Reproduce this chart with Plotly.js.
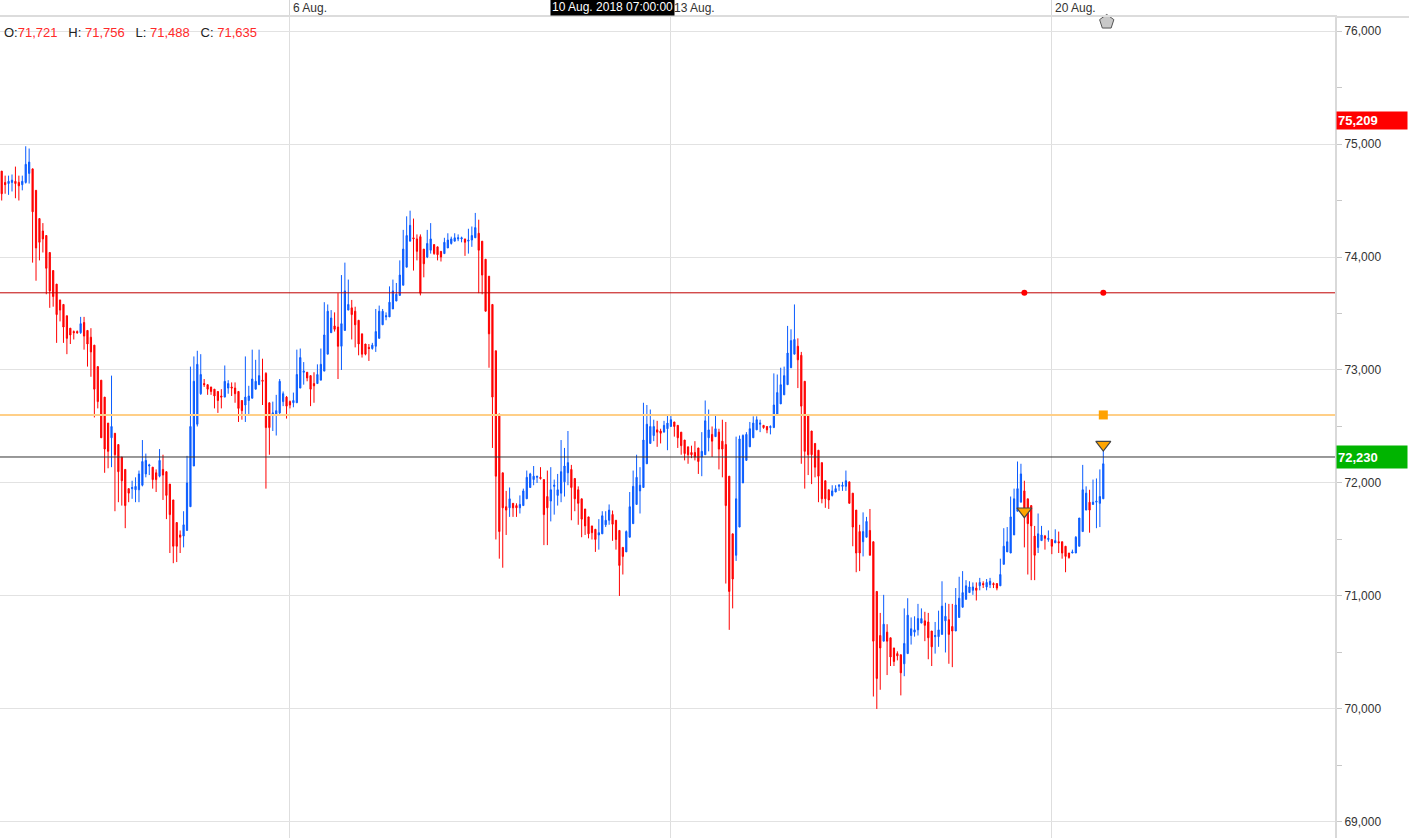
<!DOCTYPE html>
<html><head><meta charset="utf-8">
<script src="https://cdn.plot.ly/plotly-3.0.1.min.js"></script>
<style>html,body{margin:0;padding:0;background:#fff;overflow:hidden}#chart{width:1409px;height:838px}</style>
</head><body><div id="chart"></div>
<script>
// ---- DATA (hourly candles) ----
const opens = [
74.76,74.66,74.65,74.66,74.67,74.66,74.64,74.66,74.74,74.78,74.59,74.34,74.23,74.19,74.04,73.88,73.76,73.62,73.58,73.48,73.37,73.34,73.34,73.33,73.42,73.35,73.29,73.22,73.03,72.91,72.76,72.53,72.40,72.44,72.34,72.23,72.12,71.95,71.95,71.94,71.94,
71.98,72.08,72.15,72.14,72.09,72.06,72.12,72.10,71.99,71.85,71.65,71.54,71.53,71.58,71.79,72.15,72.52,72.79,72.88,72.87,72.85,72.83,72.81,72.77,72.76,72.84,72.85,72.84,72.81,72.73,72.69,72.73,72.75,72.83,72.87,72.91,72.97,72.71,72.61,72.60,
72.62,72.72,72.76,72.72,72.71,72.71,72.84,72.98,72.98,72.95,72.88,72.88,72.91,72.99,73.14,73.33,73.39,73.38,73.21,73.35,73.53,73.55,73.52,73.44,73.32,73.23,73.20,73.19,73.21,73.28,73.40,73.47,73.47,73.54,73.61,73.66,73.75,73.91,74.14,74.17,74.16,
74.18,74.07,74.00,74.06,74.11,74.09,74.05,74.03,74.08,74.12,74.14,74.16,74.16,74.16,74.14,74.15,74.17,74.21,74.14,73.98,73.83,73.58,73.17,72.61,72.09,71.79,71.78,71.82,71.80,71.78,71.80,71.86,71.96,72.03,72.05,72.05,72.03,71.88,71.84,71.97,71.89,
71.91,72.01,72.09,72.12,72.04,71.94,71.86,71.77,71.70,71.62,71.59,71.54,71.55,71.63,71.67,71.721,71.67,71.58,71.43,71.39,71.52,71.64,71.81,71.93,71.96,72.17,72.35,72.42,72.47,72.46,72.45,72.48,72.50,72.54,72.51,72.45,72.38,72.32,72.27,72.27,72.31,
72.23,72.25,72.40,72.43,72.41,72.45,72.37,72.34,72.06,71.55,71.36,71.61,72.00,72.20,72.32,72.40,72.47,72.52,72.51,72.50,72.49,72.49,72.61,72.70,72.78,72.87,73.02,73.14,73.21,73.13,72.90,72.60,72.46,72.35,72.29,72.18,72.02,71.94,71.89,71.92,
71.97,71.97,71.97,72.01,71.91,71.76,71.57,71.48,71.52,71.58,71.48,71.04,70.65,70.60,70.68,70.63,70.54,70.49,70.48,70.40,70.49,70.65,70.68,70.70,70.76,70.78,70.77,70.69,70.64,70.64,70.66,70.78,70.79,70.73,70.69,70.81,70.90,70.97,71.03,71.05,71.07,
71.09,71.11,71.08,71.10,71.11,71.11,71.09,71.28,71.39,71.38,71.54,71.75,71.83,71.93,71.86,71.80,71.53,71.43,71.49,71.53,71.50,71.50,71.47,71.48,71.48,71.44,71.38,71.38,71.38,71.44,71.57,71.76,71.83,71.81,71.83,71.82,71.86
];
const highs = [
74.76,74.72,74.72,74.73,74.80,74.72,74.72,74.98,74.96,74.78,74.59,74.34,74.30,74.19,74.04,73.88,73.76,73.62,73.58,73.48,73.37,73.35,73.35,73.47,73.47,73.35,73.37,73.22,73.03,72.91,72.76,72.53,72.95,72.44,72.34,72.23,72.12,71.95,72.02,72.05,72.11,
72.38,72.26,72.17,72.14,72.12,72.30,72.25,72.10,71.99,71.85,71.65,71.58,71.75,72.24,73.03,73.12,73.17,73.14,72.92,72.87,72.85,72.83,72.81,72.83,73.04,72.91,72.89,72.89,72.81,72.73,73.12,72.86,73.18,73.09,73.18,73.10,72.98,72.71,72.72,72.78,
72.92,72.81,72.77,72.73,72.80,73.18,73.19,73.07,72.98,72.95,72.98,73.05,73.19,73.60,73.58,73.53,73.51,73.68,73.84,73.95,73.80,73.62,73.56,73.44,73.32,73.23,73.23,73.24,73.54,73.57,73.54,73.51,73.74,73.80,73.77,73.97,74.24,74.36,74.41,74.34,74.20,
74.20,74.07,74.24,74.30,74.11,74.09,74.05,74.17,74.21,74.18,74.21,74.20,74.18,74.16,74.25,74.27,74.39,74.33,74.14,73.98,73.83,73.58,73.17,72.61,72.09,71.93,71.96,71.82,71.82,71.89,71.95,72.11,72.09,72.15,72.06,72.14,72.03,72.11,72.14,72.03,72.08,
72.38,72.31,72.46,72.16,72.04,71.97,71.86,71.77,71.70,71.62,71.59,71.68,71.75,71.75,71.81,71.756,71.67,71.58,71.43,71.58,71.92,72.11,72.25,72.14,72.71,72.69,72.65,72.56,72.55,72.48,72.55,72.60,72.60,72.54,72.51,72.45,72.38,72.32,72.33,72.37,72.31,
72.45,72.73,72.65,72.50,72.61,72.48,72.56,72.54,72.06,71.55,72.41,72.42,72.43,72.45,72.54,72.59,72.59,72.56,72.51,72.50,72.51,72.97,72.96,73.02,73.03,73.39,73.36,73.58,73.28,73.16,72.90,72.60,72.46,72.35,72.29,72.18,72.02,71.94,71.98,71.98,
71.99,72.01,72.11,72.01,71.91,71.76,71.63,71.74,71.70,71.77,71.48,71.04,70.85,71.01,70.75,70.63,70.54,70.51,70.48,70.89,70.98,70.81,70.82,70.93,70.89,70.86,70.85,70.69,70.77,70.87,71.13,70.94,70.93,70.93,71.07,71.17,71.22,71.14,71.13,71.12,71.12,
71.16,71.13,71.15,71.16,71.12,71.11,71.33,71.60,71.61,71.88,71.95,72.19,72.17,72.02,71.86,71.80,71.62,71.73,71.62,71.54,71.58,71.50,71.59,71.57,71.48,71.44,71.38,71.41,71.53,71.69,72.16,71.97,71.94,72.03,72.04,72.12,72.29
];
const lows = [
74.50,74.56,74.55,74.58,74.52,74.50,74.59,74.65,74.65,73.95,73.79,73.97,74.04,73.67,73.55,73.56,73.24,73.43,73.24,73.14,73.23,73.27,73.32,73.32,73.18,73.03,72.94,72.58,72.66,72.40,72.09,72.13,72.14,71.75,71.83,71.80,71.60,71.83,71.86,71.83,71.83,
71.97,72.05,72.07,71.95,71.92,72.05,71.85,71.68,71.38,71.29,71.30,71.38,71.43,71.58,71.79,72.15,72.50,72.78,72.85,72.78,72.78,72.66,72.62,72.66,72.76,72.79,72.77,72.71,72.54,72.56,72.54,72.60,72.75,72.83,72.87,72.69,71.95,72.25,72.46,72.42,
72.60,72.68,72.57,72.66,72.67,72.71,72.84,72.87,72.90,72.68,72.71,72.88,72.91,72.99,73.14,73.33,73.34,72.92,73.00,73.35,73.53,73.27,73.20,73.13,73.11,73.13,73.08,73.18,73.16,73.28,73.40,73.44,73.47,73.54,73.61,73.66,73.75,73.91,74.14,73.88,73.97,
73.66,73.82,73.99,74.03,74.02,73.97,73.96,74.03,74.08,74.11,74.14,74.14,74.13,74.01,74.03,74.09,74.17,73.68,73.67,73.52,73.02,72.31,71.50,71.33,71.25,71.54,71.70,71.70,71.70,71.73,71.80,71.86,71.96,71.98,72.00,72.03,71.45,71.45,71.66,71.72,71.80,
71.83,71.88,71.98,71.67,71.75,71.63,71.52,71.54,71.51,71.50,71.39,71.41,71.55,71.61,71.63,71.488,71.41,71.00,71.19,71.39,71.52,71.64,71.81,71.73,71.96,72.17,72.35,72.37,72.32,72.35,72.45,72.29,72.50,72.41,72.31,72.25,72.20,72.17,72.22,72.20,72.08,
72.06,72.25,72.28,72.23,72.41,72.12,72.05,71.11,70.70,70.89,71.31,71.61,72.00,72.20,72.32,72.40,72.47,72.45,72.48,72.44,72.43,72.49,72.61,72.70,72.78,72.87,73.02,73.14,72.84,72.17,71.95,72.07,71.99,72.05,71.83,71.82,71.78,71.77,71.88,71.92,
71.93,71.93,71.93,71.82,71.44,71.21,71.22,71.35,71.52,71.36,70.11,70.00,70.17,70.60,70.30,70.38,70.38,70.43,70.12,70.29,70.49,70.57,70.64,70.65,70.76,70.60,70.44,70.38,70.49,70.55,70.66,70.50,70.40,70.37,70.69,70.81,70.90,70.97,71.03,71.01,70.96,
71.05,71.07,71.05,71.07,71.07,71.05,71.09,71.28,71.39,71.38,71.54,71.75,71.83,71.43,71.19,71.14,71.14,71.38,71.49,71.41,71.48,71.37,71.47,71.38,71.33,71.21,71.33,71.38,71.38,71.44,71.57,71.76,71.56,71.81,71.60,71.61,71.86
];
const closes = [
74.56,74.64,74.67,74.68,74.65,74.63,74.67,74.82,74.84,74.40,74.08,74.13,74.16,73.90,73.70,73.65,73.49,73.53,73.38,73.28,73.31,73.33,73.33,73.41,73.30,73.23,73.16,72.83,72.72,72.40,72.30,72.28,72.50,72.25,72.10,72.02,71.80,71.91,71.96,71.97,72.08,
72.19,72.20,72.16,72.03,72.03,72.20,72.07,71.89,71.72,71.44,71.44,71.52,71.63,72.00,72.50,72.90,73.05,72.96,72.87,72.83,72.81,72.77,72.73,72.76,72.90,72.88,72.84,72.79,72.66,72.64,72.76,72.77,72.92,72.90,72.95,72.90,72.49,72.49,72.62,72.64,
72.90,72.79,72.68,72.69,72.73,72.96,73.11,72.99,72.93,72.83,72.86,72.96,73.05,73.31,73.52,73.46,73.36,73.21,73.41,73.70,73.58,73.49,73.40,73.23,73.14,73.14,73.19,73.22,73.34,73.52,73.52,73.48,73.60,73.70,73.67,73.84,74.07,74.19,74.28,74.16,74.05,
73.68,73.94,74.12,74.16,74.03,74.02,74.00,74.13,74.15,74.16,74.17,74.17,74.17,74.13,74.15,74.19,74.26,74.06,73.84,73.52,73.32,72.76,72.06,71.57,71.78,71.76,71.86,71.78,71.78,71.81,71.93,72.05,72.08,72.06,72.06,72.04,71.72,71.78,71.94,71.98,71.94,
72.10,72.15,72.18,71.96,71.86,71.82,71.68,71.62,71.55,71.56,71.50,71.56,71.71,71.67,71.76,71.635,71.50,71.27,71.35,71.57,71.79,71.97,72.05,71.98,72.38,72.52,72.50,72.50,72.45,72.44,72.51,72.53,72.56,72.50,72.40,72.33,72.26,72.25,72.25,72.23,72.19,
72.28,72.55,72.47,72.37,72.48,72.30,72.30,71.80,71.04,71.15,71.86,72.39,72.42,72.43,72.48,72.53,72.56,72.53,72.49,72.47,72.50,72.69,72.80,72.87,72.95,73.15,73.26,73.27,73.09,72.68,72.28,72.25,72.25,72.14,72.06,71.86,71.86,71.85,71.93,71.95,
71.98,71.98,72.02,71.82,71.61,71.38,71.38,71.57,71.66,71.36,70.60,70.27,70.54,70.75,70.60,70.46,70.42,70.47,70.32,70.58,70.83,70.71,70.70,70.80,70.80,70.74,70.63,70.55,70.65,70.70,70.91,70.82,70.66,70.69,70.92,70.98,71.03,71.09,71.08,71.08,71.05,
71.12,71.10,71.12,71.13,71.10,71.07,71.19,71.44,71.48,71.70,71.86,71.95,72.08,71.76,71.64,71.62,71.36,71.55,71.54,71.51,71.51,71.44,71.49,71.47,71.38,71.35,71.34,71.39,71.52,71.69,71.94,71.91,71.76,71.83,71.84,71.88,72.17
];
const weekTickIndex = [84, 195, 306];
const weekTickLabels = ['6 Aug.', '13 Aug.', '20 Aug.'];
const yTickVals = [69, 70, 71, 72, 73, 74, 75, 76];
const yMinorVals = [69.5, 70.5, 71.5, 72.5, 73.5, 74.5, 75.5];
const levelPrices = [73.683, 72.602, 72.230];
const dotIndex = [298, 321], dotPrice = [73.683, 73.683];
const squareIndex = [321], squarePrice = [72.602];
const triIndex = [298, 321], triPrice = [71.75, 72.34];
const houseIndex = [322], housePrice = [76.08];
const priceTags = [75.209, 72.230];
const hoverCandle = 178;
const hoverTime = '10 Aug. 2018 07:00:00';

// ---- CHART ----
const N = opens.length;
const idx = opens.map((_, i) => i);
const W = 1409, H = 838, mR = 74, mT = 17;
const plotW = W - mR;
const per = (1103.3 - 1.7) / (N - 1);
const xr = [-1.7 / per, (plotW - 1.7) / per];
const yr = [68.858, 76.124];
const FONT = 'Liberation Sans, Arial, sans-serif';
const fmt = v => v.toFixed(3).replace('.', ',');

const levelStyle = [
  {color: '#c00000', width: 1},
  {color: '#ffcf87', width: 2},
  {color: '#333333', width: 1}
];

const traces = [
  {type: 'candlestick', x: idx, open: opens, high: highs, low: lows, close: closes,
   increasing: {line: {color: '#0a5cff', width: 1}, fillcolor: '#0a5cff'},
   decreasing: {line: {color: '#ff0000', width: 1}, fillcolor: '#ff0000'},
   hoverinfo: 'skip', showlegend: false}
];
levelPrices.forEach((p, k) => traces.push({
  type: 'scatter', mode: 'lines', x: [xr[0], xr[1]], y: [p, p], line: levelStyle[k],
  hoverinfo: 'skip', showlegend: false, cliponaxis: true
}));
traces.push(
  {type: 'scatter', mode: 'markers', x: dotIndex, y: dotPrice, cliponaxis: false,
   marker: {color: '#ff0000', size: 6}, hoverinfo: 'skip', showlegend: false},
  {type: 'scatter', mode: 'markers', x: squareIndex, y: squarePrice, cliponaxis: false,
   marker: {color: '#ffa200', size: 9, symbol: 'square'}, hoverinfo: 'skip', showlegend: false},
  {type: 'scatter', mode: 'markers', x: triIndex, y: triPrice, cliponaxis: false,
   marker: {color: '#ffa500', size: 13, symbol: 'triangle-down', line: {color: '#444', width: 1.2}}, hoverinfo: 'skip', showlegend: false},
  {type: 'scatter', mode: 'markers', x: houseIndex, y: housePrice, cliponaxis: false,
   marker: {color: '#c8c8c8', size: 15, symbol: 'pentagon', line: {color: '#555', width: 1}}, hoverinfo: 'skip', showlegend: false}
);

const shapes = [{type: 'line', xref: 'paper', x0: 1, x1: W / plotW, yref: 'paper', y0: 1, y1: 1, line: {color: '#dcdcdc', width: 2}}];

const annotations = [];
weekTickIndex.forEach((v, k) => annotations.push({
  x: v, xref: 'x', y: 1, yref: 'paper', xanchor: 'left', yanchor: 'bottom', xshift: 1, yshift: 0,
  text: weekTickLabels[k], showarrow: false, font: {family: FONT, size: 12, color: '#333'}
}));
annotations.push({
  x: hoverCandle, xref: 'x', y: 1, yref: 'paper', xanchor: 'center', yanchor: 'bottom', yshift: 1,
  text: hoverTime, showarrow: false, bgcolor: '#000', borderpad: 1,
  font: {family: FONT, size: 12, color: '#fff'}
});
const red = s => "<span style='color:#ff2a2a'>" + s + "</span>";
annotations.push({
  x: 0, xref: 'paper', y: 1, yref: 'paper', xanchor: 'left', yanchor: 'middle', xshift: 2, yshift: -15,
  showarrow: false, font: {family: FONT, size: 13, color: '#222'},
  text: 'O:' + red(fmt(opens[hoverCandle])) + '&nbsp;&nbsp;&nbsp;H: ' + red(fmt(highs[hoverCandle])) +
        '&nbsp;&nbsp;&nbsp;L: ' + red(fmt(lows[hoverCandle])) + '&nbsp;&nbsp;&nbsp;C: ' + red(fmt(closes[hoverCandle]))
});
const tagStyle = [{bg: '#ff0000', h: 15}, {bg: '#00b400', h: 20}];
priceTags.forEach((p, k) => annotations.push({
  x: 1, xref: 'paper', y: p, yref: 'y', xanchor: 'left', yanchor: 'middle', xshift: 1,
  text: '<b>' + fmt(p) + '</b>', showarrow: false, bgcolor: tagStyle[k].bg, width: 68, height: tagStyle[k].h,
  align: 'left', borderpad: 1, font: {family: FONT, size: 13, color: '#fff'}
}));

const layout = {
  width: W, height: H, margin: {l: 0, r: mR, t: mT, b: 0, autoexpand: false},
  paper_bgcolor: '#fff', plot_bgcolor: '#fff', separators: ',.',
  showlegend: false, hovermode: false, dragmode: false, boxgap: 0.5,
  font: {family: FONT, size: 12, color: '#333'},
  xaxis: {type: 'linear', side: 'top', range: xr, tickmode: 'array', tickvals: weekTickIndex, showticklabels: false,
          ticks: 'outside', ticklen: 16, tickcolor: '#d6d6d6', tickwidth: 1,
          showgrid: true, gridcolor: '#dedede', gridwidth: 1, zeroline: false,
          showline: true, linecolor: '#dcdcdc', linewidth: 2, rangeslider: {visible: false}, fixedrange: true},
  yaxis: {side: 'right', range: yr, tickmode: 'array', tickvals: yTickVals, tickformat: '.3f',
          ticks: 'outside', ticklen: 5, tickcolor: '#c8c8c8', showgrid: true, gridcolor: '#e2e2e2', gridwidth: 1,
          zeroline: false, showline: true, linecolor: '#d9d9d9', linewidth: 2,
          tickfont: {family: FONT, size: 12, color: '#333'}, fixedrange: true,
          minor: {tickmode: 'array', tickvals: yMinorVals, ticks: 'outside', ticklen: 5, tickcolor: '#c8c8c8', showgrid: false}},
  shapes: shapes, annotations: annotations
};
Plotly.newPlot('chart', traces, layout, {displayModeBar: false, staticPlot: true});
</script>
</body></html>
